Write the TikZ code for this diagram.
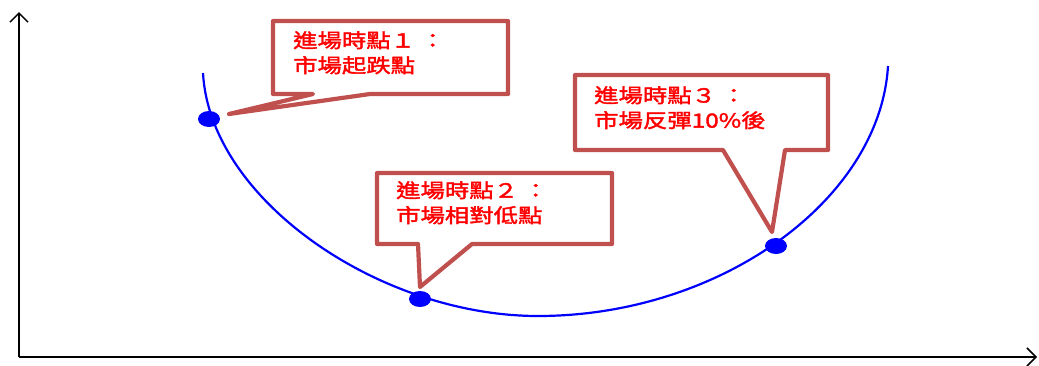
\documentclass[tikz,border=0pt]{standalone}
\usepackage{fontspec}
\usetikzlibrary{arrows.meta}
\newfontfamily\cjk[FakeStretch=1.25,FakeBold=2]{Noto Sans CJK TC}
\definecolor{callred}{RGB}{192,80,77}
\definecolor{txtred}{RGB}{255,0,0}
\definecolor{curveblue}{RGB}{0,0,255}
\tikzset{
  axis/.style={line width=1.5pt, black, -{Straight Barb[length=9pt,width=18pt,line width=1.5pt]}},
  curve/.style={line width=2.2pt, curveblue},
  dot/.style={fill=curveblue, draw=none},
  callout/.style={line width=4.2pt, callred, fill=white, line join=round},
  calltext/.style={anchor=north west, inner sep=0pt, align=left, text=txtred, font=\cjk\fontsize{19.5}{25}\selectfont}
}
\begin{document}
\begin{tikzpicture}[x=1pt,y=-1pt]
\useasboundingbox (0,0) rectangle (1039,365);
% axes
\coordinate (O) at (19,357);
\coordinate (Ytop) at (19,12);
\coordinate (Xend) at (1037,357);
\draw[axis] (O) -- (Ytop);
\draw[axis] (O) -- (Xend);
% curve
\coordinate (c0) at (203,73);
\coordinate (cm) at (538,316);
\coordinate (c1) at (888,66);
\draw[curve] (c0) .. controls (210,200) and (380,316) .. (cm)
  .. controls (720,316) and (880,200) .. (c1);
% dots
\coordinate (p1) at (209,119);
\coordinate (p2) at (420,299);
\coordinate (p3) at (776,246);
\fill[dot] (p1) ellipse [x radius=11, y radius=8];
\fill[dot] (p2) ellipse [x radius=11, y radius=8];
\fill[dot] (p3) ellipse [x radius=11, y radius=8];
% callout 1
\coordinate (t1) at (229,114);
\draw[callout] (273,21) -- (508,21) -- (508,94) -- (370,94) -- (t1) -- (313,94) -- (273,94) -- cycle;
\node[calltext] (l1) at (293,31) {進場時點１ ：\\市場起跌點};
% callout 2
\coordinate (t2) at (420,287);
\draw[callout] (377,173) -- (612,173) -- (612,244) -- (472,244) -- (t2) -- (418,244) -- (377,244) -- cycle;
\node[calltext] (l2) at (396,181) {進場時點２ ：\\市場相對低點};
% callout 3
\coordinate (t3) at (772,232);
\draw[callout] (575,75) -- (828,75) -- (828,150) -- (785,150) -- (t3) -- (723,150) -- (575,150) -- cycle;
\node[calltext] (l3) at (594,86) {進場時點３ ：\\市場反彈10\%後};
\end{tikzpicture}
\end{document}
